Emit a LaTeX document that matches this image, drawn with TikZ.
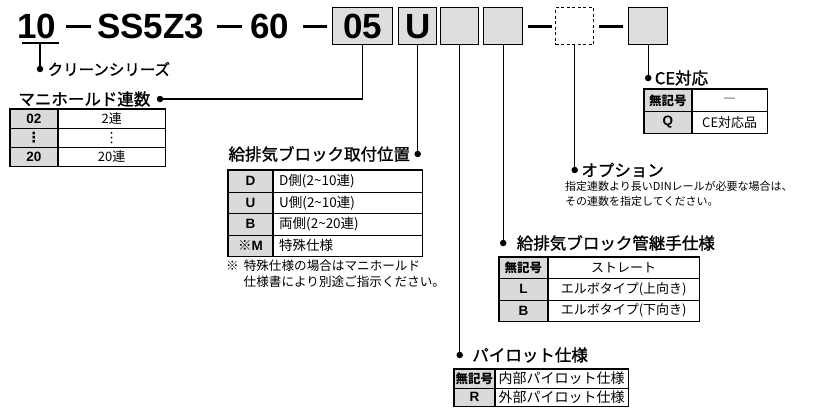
\documentclass[tikz,border=0pt]{standalone}
\usepackage{fontspec}
\setmainfont{Liberation Sans}
\newfontfamily\jp{Noto Sans CJK JP}
\newfontfamily\jpmed[FakeBold=1.2]{Noto Sans CJK JP}
\newfontfamily\sym{DejaVu Sans}
\usetikzlibrary{positioning}
\definecolor{boxGray}{RGB}{222,222,222}
\definecolor{keyGray}{RGB}{218,218,218}
\tikzset{
  partbox/.style={draw, line width=1.4pt, fill=boxGray, inner sep=0pt, anchor=north west,
    minimum height=37pt, font=\fontsize{35}{35}\selectfont\bfseries},
  optbox/.style={partbox, fill=none, dash pattern=on 3pt off 2.5pt},
  titletext/.style={inner sep=0pt, anchor=base west, font=\fontsize{35}{35}\selectfont\bfseries},
  dashbar/.style={line width=3pt},
  lead/.style={line width=1.3pt},
  pin/.style={circle, fill, inner sep=0pt, minimum size=6.5pt},
  head/.style={inner sep=0pt, font=\jpmed\fontsize{16.5}{17}\selectfont},
  keycell/.style={draw, line width=0.8pt, fill=keyGray, inner sep=0pt, anchor=north west,
    font=\fontsize{13.5}{14}\selectfont\bfseries},
  valcell/.style={draw, line width=0.8pt, fill=white, inner sep=0pt, anchor=north west,
    font=\jp\fontsize{13}{14}\selectfont},
  tabframe/.style={line width=1.2pt},
  note/.style={inner sep=0pt, anchor=north west, align=left},
}
\newcommand{\nokey}{{\jp\bfseries\fontsize{12.5}{13}\selectfont 無記号}}
\newcommand{\vdot}{{\sym\fontsize{14}{14}\selectfont ⋮}}

\begin{document}
\begin{tikzpicture}[x=1pt, y=-1pt]
  \useasboundingbox (0,0) rectangle (813,407);
  % model number
  \node[titletext] (t10) at (17,38) {10};
  \node[titletext] (tSS) at (97,38) {SS5Z3};
  \node[titletext] (t60) at (250,38) {60};
  \node[partbox, minimum width=60pt] (b05) at (332,7) {05};
  \node[partbox, minimum width=38pt] (bU) at (398,7) {U};
  \node[partbox, minimum width=38pt] (bP) at (440,7) {};
  \node[partbox, minimum width=39pt] (bF) at (483,7) {};
  \node[optbox, minimum width=38pt] (bO) at (555,7) {};
  \node[partbox, minimum width=39pt] (bCE) at (628,7) {};
  \draw[dashbar, shorten <=10pt, shorten >=6pt] (t10.east |- b05.west) -- (tSS.west |- b05.west);
  \draw[dashbar, shorten <=13pt, shorten >=8pt] (tSS.east |- b05.west) -- (t60.west |- b05.west);
  \draw[dashbar, shorten <=14pt, shorten >=5pt] (t60.east |- b05.west) -- (b05.west);
  \draw[dashbar, shorten <=5pt, shorten >=3pt] (bF.east) -- (bO.west);
  \draw[dashbar, shorten <=5pt, shorten >=5pt] (bO.east) -- (bCE.west);

  % clean series
  \coordinate (u10a) at (22,43);
  \coordinate (u10b) at (59,43);
  \coordinate (u10) at (40,43);
  \draw[lead] (u10a) -- (u10b);
  \node[pin] (pSer) at (40,69) {};
  \draw[lead] (u10) -- (pSer);
  \node[inner sep=0pt, right=4pt of pSer, font=\jpmed\fontsize{15.5}{16}\selectfont] (hSer) {クリーンシリーズ};

  % manifold stations
  \node[pin] (pMan) at (160,99) {};
  \draw[lead] (b05.south) |- (pMan);
  \node[head, left=6pt of pMan] (hMan) {マニホールド連数};
  \foreach \k/\v [count=\i] in {02/2連, \vdot/\vdot, 20/20連} {
    \node[keycell, minimum width=47pt, minimum height=19pt] (man-k\i) at (10,{109+(\i-1)*19}) {\k};
    \node[valcell, minimum width=107pt, minimum height=19pt] (man-v\i) at (man-k\i.north east) {\v};
  }
  \draw[tabframe] (man-k1.north west) rectangle (man-v3.south east);

  % SUP/EXH block mounting position
  \node[pin] (pPos) at (bU.south |- 0,154) {};
  \draw[lead] (bU.south) -- (pPos);
  \node[head, left=4pt of pPos] (hPos) {給排気ブロック取付位置};
  \foreach \k/\v [count=\i] in {D/D側(2\textasciitilde 10連), U/U側(2\textasciitilde 10連),
      B/両側(2\textasciitilde 20連), {{\jp ※}M}/特殊仕様} {
    \node[keycell, minimum width=44pt, minimum height=21.5pt] (pos-k\i) at (228,{170+(\i-1)*21.5}) {\k};
    \node[valcell, text width=137pt, inner xsep=6pt, align=left, minimum height=21.5pt, font=\jp\fontsize{13.5}{14}\selectfont] (pos-v\i) at (pos-k\i.north east) {\v};
  }
  \draw[tabframe] (pos-k1.north west) rectangle (pos-v4.south east);
  \node[note, font=\jp\fontsize{12.6}{16}\selectfont] (nPos) at (226,260)
    {※\hspace{5pt}特殊仕様の場合はマニホールド\\\hspace{17.5pt}仕様書により別途ご指示ください。};

  % pilot
  \node[pin] (pPil) at (bP.south |- 0,355) {};
  \draw[lead] (bP.south) -- (pPil);
  \node[head, right=9pt of pPil] (hPil) {パイロット仕様};
  \foreach \k/\v [count=\i] in {\nokey/内部パイロット仕様, R/外部パイロット仕様} {
    \node[keycell, minimum width=40pt, minimum height=18.5pt] (pil-k\i) at (454,{369+(\i-1)*18.5}) {\k};
    \node[valcell, minimum width=133pt, minimum height=18.5pt, font=\jp\fontsize{14}{14}\selectfont] (pil-v\i) at (pil-k\i.north east) {\v};
  }
  \draw[tabframe] (pil-k1.north west) rectangle (pil-v2.south east);

  % SUP/EXH block fitting
  \node[pin] (pFit) at (bF.south |- 0,243) {};
  \draw[lead] (bF.south) -- (pFit);
  \node[head, right=10pt of pFit] (hFit) {給排気ブロック管継手仕様};
  \foreach \k/\v [count=\i] in {\nokey/ストレート, L/エルボタイプ(上向き), B/エルボタイプ(下向き)} {
    \node[keycell, minimum width=48pt, minimum height=21.3pt] (fit-k\i) at (499,{257+(\i-1)*21.3}) {\k};
    \node[valcell, minimum width=151pt, minimum height=21.3pt] (fit-v\i) at (fit-k\i.north east) {\v};
  }
  \draw[tabframe] (fit-k1.north west) rectangle (fit-v3.south east);

  % option
  \node[pin] (pOpt) at (bO.south |- 0,170) {};
  \draw[lead] (bO.south) -- (pOpt);
  \node[head, right=3pt of pOpt] (hOpt) {オプション};
  \node[note, font=\jp\fontsize{11}{15}\selectfont] (dOpt) at (565,181)
    {指定連数より長いDINレールが必要な場合は、\\その連数を指定してください。};

  % CE
  \node[pin] (pCE) at (bCE.south |- 0,78) {};
  \draw[lead] (bCE.south) -- (pCE);
  \node[head, right=3pt of pCE] (hCE) {CE対応};
  \foreach \k/\v [count=\i] in {\nokey/―, Q/CE対応品} {
    \node[keycell, minimum width=47pt, minimum height=22pt] (ce-k\i) at (644,{89+(\i-1)*22}) {\k};
    \node[valcell, minimum width=75pt, minimum height=22pt] (ce-v\i) at (ce-k\i.north east) {\v};
  }
  \draw[tabframe] (ce-k1.north west) rectangle (ce-v2.south east);
\end{tikzpicture}
\end{document}
